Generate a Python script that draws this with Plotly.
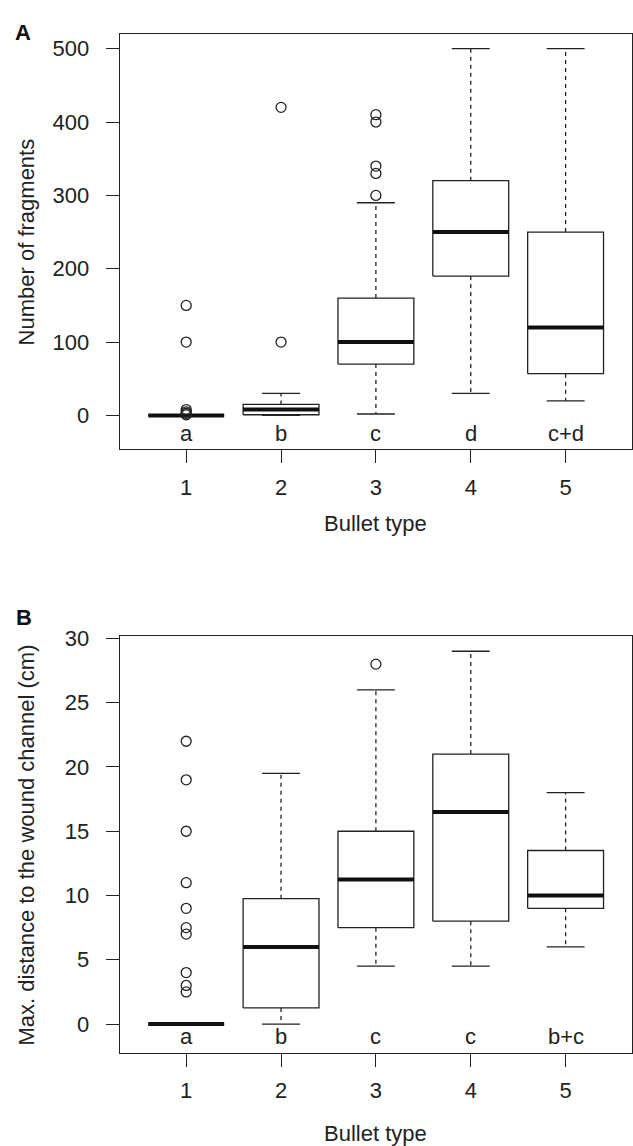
import plotly.graph_objects as go
from plotly.subplots import make_subplots

# ---------------- data ----------------
categories = [1, 2, 3, 4, 5]
tick_labels = ["1", "2", "3", "4", "5"]

# Panel A: number of fragments
frag_lower = [0, 0, 2, 30, 20]
frag_q1 = [0, 1, 70, 190, 57]
frag_median = [0, 8, 100, 250, 120]
frag_q3 = [0, 15, 160, 320, 250]
frag_upper = [0, 30, 290, 500, 500]
frag_outliers = [[150, 100, 8, 5, 3, 1], [420, 100], [410, 400, 340, 330, 300], [], []]
frag_letters = ["a", "b", "c", "d", "c+d"]
frag_ticks = [0, 100, 200, 300, 400, 500]

# Panel B: max. distance to the wound channel (cm)
dist_lower = [0, 0, 4.5, 4.5, 6]
dist_q1 = [0, 1.25, 7.5, 8, 9]
dist_median = [0, 6, 11.25, 16.5, 10]
dist_q3 = [0, 9.75, 15, 21, 13.5]
dist_upper = [0, 19.5, 26, 29, 18]
dist_outliers = [[22, 19, 15, 11, 9, 7.5, 7, 4, 3, 2.5], [], [28], [], []]
dist_letters = ["a", "b", "c", "c", "b+c"]
dist_ticks = [0, 5, 10, 15, 20, 25, 30]

# ---------------- style ----------------
W, H = 633, 1146
INK = "#222222"
FONT = "Liberation Sans, Arial, sans-serif"
FS = 22
LW = 1.3

fig = make_subplots(rows=2, cols=1)


def add_boxes(row, lower, q1, med, q3, upper, outliers):
    hw, cw = 0.4, 0.2
    bx, by, wx, wy, cx, cy, mx, my, ox, oy = ([] for _ in range(10))
    for i, c in enumerate(categories):
        wx += [c, c, None, c, c, None]
        wy += [q3[i], upper[i], None, q1[i], lower[i], None]
        cx += [c - cw, c + cw, None, c - cw, c + cw, None]
        cy += [upper[i], upper[i], None, lower[i], lower[i], None]
        bx += [c - hw, c + hw, c + hw, c - hw, c - hw, None]
        by += [q1[i], q1[i], q3[i], q3[i], q1[i], None]
        mx += [c - hw, c + hw, None]
        my += [med[i], med[i], None]
        ox += [c] * len(outliers[i])
        oy += outliers[i]
    common = dict(showlegend=False, hoverinfo="skip")
    fig.add_trace(go.Scatter(x=wx, y=wy, mode="lines",
                             line=dict(color=INK, width=LW, dash="4px,4px"), **common), row=row, col=1)
    fig.add_trace(go.Scatter(x=cx, y=cy, mode="lines",
                             line=dict(color=INK, width=LW), **common), row=row, col=1)
    fig.add_trace(go.Scatter(x=bx, y=by, mode="lines", fill="toself", fillcolor="white",
                             line=dict(color=INK, width=LW), **common), row=row, col=1)
    fig.add_trace(go.Scatter(x=mx, y=my, mode="lines",
                             line=dict(color="#111111", width=4), **common), row=row, col=1)
    fig.add_trace(go.Scatter(x=ox, y=oy, mode="markers",
                             marker=dict(symbol="circle-open", size=10, color=INK,
                                         line=dict(width=LW, color=INK)), **common), row=row, col=1)


add_boxes(1, frag_lower, frag_q1, frag_median, frag_q3, frag_upper, frag_outliers)
add_boxes(2, dist_lower, dist_q1, dist_median, dist_q3, dist_upper, dist_outliers)

# layout geometry (pixels -> paper)
left_px, right_px = 120, 633
A_top, A_bot = 24, 443
B_top, B_bot = 632, 1052

xdom = [left_px / W, right_px / W]
axis_common = dict(showline=True, mirror=True, linecolor=INK, linewidth=LW,
                   ticks="outside", ticklen=13, tickwidth=LW, tickcolor=INK,
                   showgrid=False, zeroline=False,
                   tickfont=dict(family=FONT, size=FS, color=INK))

fig.update_xaxes(domain=xdom, range=[0.3, 5.7], tickvals=categories, ticktext=tick_labels,
                 ticklabelstandoff=5, **axis_common)
fig.update_yaxes(row=1, col=1, domain=[1 - A_bot / H, 1 - A_top / H], range=[-45.9, 520.3],
                 tickvals=frag_ticks, ticklabelstandoff=12, **axis_common)
fig.update_yaxes(row=2, col=1, domain=[1 - B_bot / H, 1 - B_top / H], range=[-2.24, 30.15],
                 tickvals=dist_ticks, ticklabelstandoff=12, **axis_common)

ann = []
txt = dict(showarrow=False, xanchor="center", yanchor="middle",
           font=dict(family=FONT, size=FS, color=INK))
# significance letters
for i, c in enumerate(categories):
    ann.append(dict(x=c, y=-24, xref="x", yref="y", text=frag_letters[i], **txt))
    ann.append(dict(x=c, y=-1.0, xref="x2", yref="y2", text=dist_letters[i], **txt))

# axis titles
ann.append(dict(x=3, y=1 - 518 / H, xref="x", yref="paper", text="Bullet type", **txt))
ann.append(dict(x=3, y=1 - 1133 / H, xref="x2", yref="paper", text="Bullet type", **txt))
ann.append(dict(x=27 / W, y=1 - (A_top + A_bot) / 2 / H, xref="paper", yref="paper",
                text="Number of fragments", textangle=-90, **txt))
ann.append(dict(x=27 / W, y=1 - (B_top + B_bot) / 2 / H, xref="paper", yref="paper",
                text="Max. distance to the wound channel (cm)", textangle=-90, **txt))
# panel labels
lab = dict(showarrow=False, xanchor="center", yanchor="middle",
           font=dict(family=FONT, size=22, color="#111111"))
ann.append(dict(x=23.5 / W, y=1 - 23 / H, xref="paper", yref="paper", text="<b>A</b>", **lab))
ann.append(dict(x=24 / W, y=1 - 612.5 / H, xref="paper", yref="paper", text="<b>B</b>", **lab))

fig.update_layout(width=W, height=H, margin=dict(l=0, r=0, t=0, b=0),
                  paper_bgcolor="white", plot_bgcolor="white",
                  annotations=ann, showlegend=False)

fig.write_html("out.html")
